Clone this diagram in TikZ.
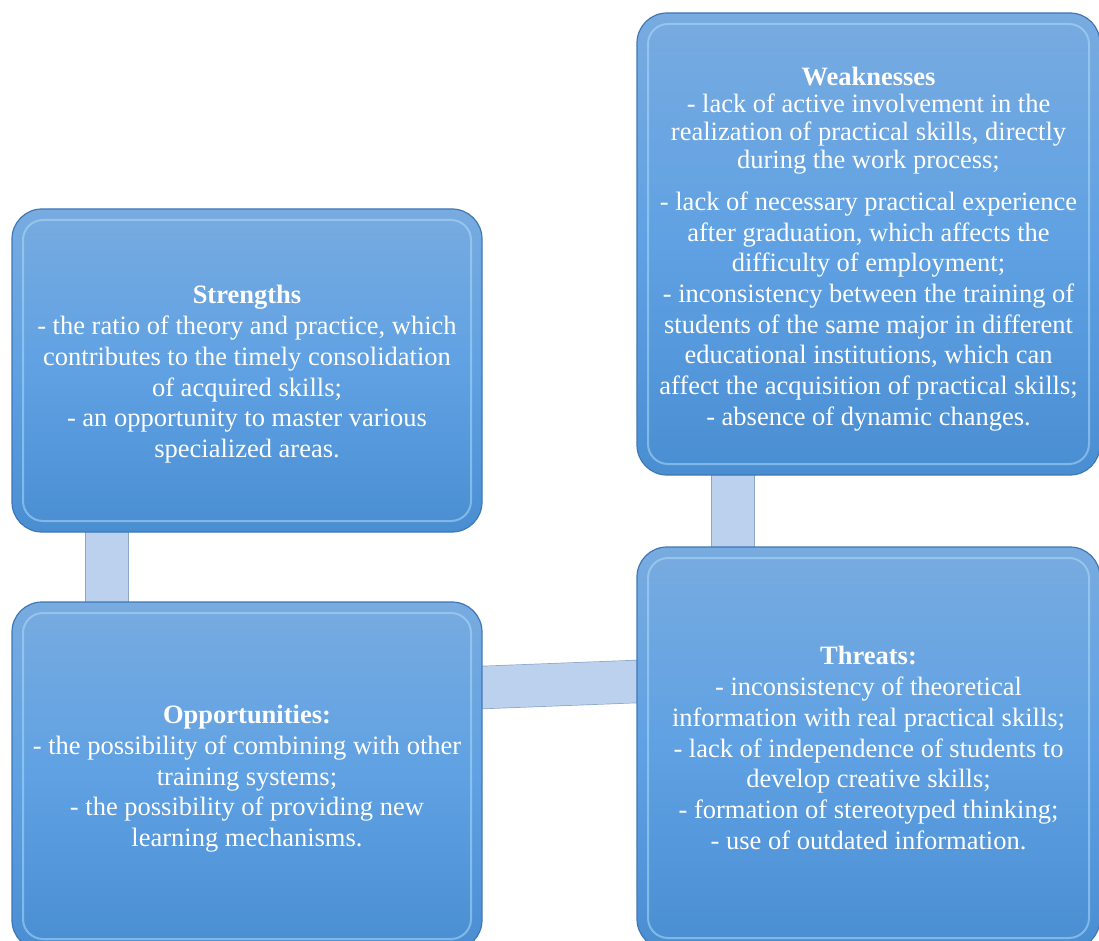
\documentclass[tikz,border=0pt]{standalone}
\usepackage{fontspec}
\setmainfont{Liberation Serif}
\usetikzlibrary{positioning,backgrounds}
\definecolor{boxtop}{HTML}{78ABE0}
\definecolor{boxmid}{HTML}{5FA1E3}
\definecolor{boxbot}{HTML}{4A8ED2}
\definecolor{boxedge}{HTML}{3F78B5}
\definecolor{boxshine}{HTML}{B4E0FA}
\definecolor{linkfill}{HTML}{BBD1EE}
\definecolor{linkedge}{HTML}{8CA6CA}
\newcommand{\lift}[1]{\rule{0pt}{#1}}

\begin{document}
\begin{tikzpicture}[x=1pt,y=-1pt,
  swot/.style={rectangle,rounded corners=30pt,draw=boxedge,line width=1.2pt,
    top color=boxtop,bottom color=boxbot,middle color=boxmid,
    text=white,align=center,inner sep=0pt,outer sep=0pt,
    font=\fontsize{26.5}{30.7}\selectfont},
  shine/.style={rounded corners=20pt,draw=boxshine,line width=2pt,opacity=0.5},
  link/.style={draw=linkedge,line width=0.7pt,double=linkfill,double distance=42pt,
    shorten <=-6pt,shorten >=-6pt}]
  \useasboundingbox (0,0) rectangle (1099,941);

  \node[swot,anchor=north west,minimum width=470pt,minimum height=323pt] (S) at (12,209)
    {\lift{26pt}\textbf{Strengths}\\- the ratio of theory and practice, which\\contributes to the timely consolidation\\of acquired skills;\\- an opportunity to master various\\specialized areas.};
  \node[swot,minimum width=470pt,minimum height=348pt] (O) [below=70pt of S]
    {\lift{24pt}\textbf{Opportunities:}\\- the possibility of combining with other\\training systems;\\- the possibility of providing new\\learning mechanisms.};
  \node[swot,anchor=north west,minimum width=463pt,minimum height=462pt] (W) at (637,13)
    {\lift{28pt}\textbf{Weaknesses}\\[-3pt]- lack of active involvement in the\\[-3pt]realization of practical skills, directly\\[-3pt]during the work process;\\[11.5pt]- lack of necessary practical experience\\after graduation, which affects the\\difficulty of employment;\\- inconsistency between the training of\\students of the same major in different\\educational institutions, which can\\affect the acquisition of practical skills;\\- absence of dynamic changes.};
  \node[swot,minimum width=463pt,minimum height=402pt] (T) [below=72pt of W]
    {\textbf{Threats:}\\- inconsistency of theoretical\\information with real practical skills;\\- lack of independence of students to\\develop creative skills;\\- formation of stereotyped thinking;\\- use of outdated information.};

  \foreach \n in {S,O,W,T}
    \draw[shine] ([shift={(11pt,-11pt)}]\n.north west) rectangle ([shift={(-11pt,11pt)}]\n.south east);

  \begin{pgfonlayer}{background}
    \draw[link] ([xshift=95pt]S.south west) -- ([xshift=95pt]O.north west);
    \draw[link] ([xshift=96pt]W.south west) -- ([xshift=96pt]T.north west);
    \draw[link] ([yshift=-85.5pt]O.north east) -- ([yshift=-134.5pt]T.north west);
  \end{pgfonlayer}
\end{tikzpicture}
\end{document}
